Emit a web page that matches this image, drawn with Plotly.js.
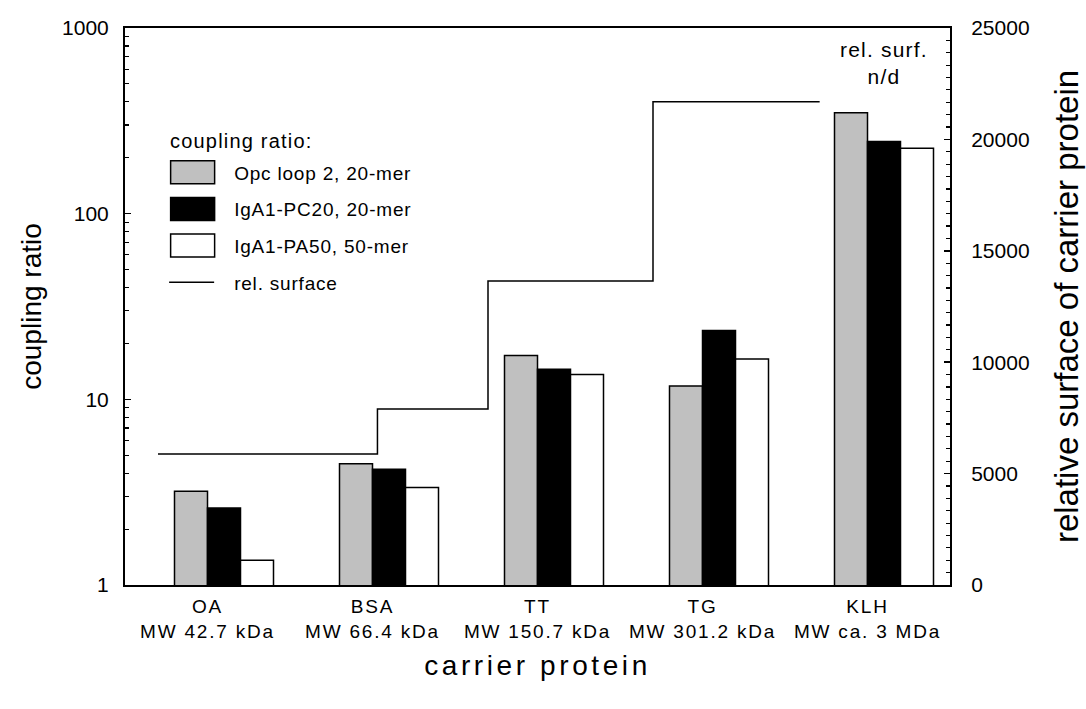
<!DOCTYPE html>
<html><head><meta charset="utf-8">
<script src="https://cdn.plot.ly/plotly-3.0.1.min.js"></script>
<style>
html,body{margin:0;padding:0;background:#fff;}
#chart{width:1086px;height:709px;}
.xtick text{letter-spacing:1.8px;}
.g-xtitle text{letter-spacing:3.6px;}
.legendtext{letter-spacing:0.8px;}
.annotation-text{letter-spacing:1.2px;}
</style></head><body><div id="chart"></div>
<script>
// ---- data ----
const categories = ['OA', 'BSA', 'TT', 'TG', 'KLH'];
const molWeights = ['MW 42.7 kDa', 'MW 66.4 kDa', 'MW 150.7 kDa', 'MW 301.2 kDa', 'MW ca. 3 MDa'];
const opcLoop2 = [3.2, 4.5, 17.2, 11.8, 350];      // coupling ratio, Opc loop 2, 20-mer
const iga1PC20 = [2.6, 4.2, 14.5, 23.5, 245];      // coupling ratio, IgA1-PC20, 20-mer
const iga1PA50 = [1.36, 3.35, 13.6, 16.5, 225];    // coupling ratio, IgA1-PA50, 50-mer
const relSurface = [5880, 7900, 13640, 21690];     // relative surface (OA..TG), KLH n/d
const surfStepEdges = [-0.3, 1.03, 1.7, 2.7, 3.71]; // where the step line changes (category units)
const leftTicks = [1, 10, 100, 1000];
const rightTicks = [0, 5000, 10000, 15000, 20000, 25000];

const FONT = 'Liberation Sans, Arial, sans-serif';
const barLine = {color: '#000', width: 1.5};

const traces = [
  {type: 'bar', name: 'Opc loop 2, 20-mer', x: categories, y: opcLoop2,
   width: 0.2, offset: -0.2, marker: {color: '#c0c0c0', line: barLine}, legendgroup: 'a'},
  {type: 'bar', name: 'IgA1-PC20, 20-mer', x: categories, y: iga1PC20,
   width: 0.2, offset: 0.0, marker: {color: '#000000', line: barLine}, legendgroup: 'b'},
  {type: 'bar', name: 'IgA1-PA50, 50-mer', x: categories, y: iga1PA50,
   width: 0.2, offset: 0.2, marker: {color: '#ffffff', line: barLine}, legendgroup: 'c'},
  {type: 'scatter', mode: 'lines', name: 'rel. surface',
   x: surfStepEdges, y: relSurface.concat([relSurface[relSurface.length - 1]]),
   line: {shape: 'hv', color: '#000', width: 1.5},
   xaxis: 'x2', yaxis: 'y2', legendgroup: 'd'}
];

const minorLog = [];
[1, 10, 100].forEach(d => { for (let k = 2; k <= 9; k++) minorLog.push(k * d); });
const minorLin = [];
for (let k = 0; k <= 45; k++) minorLin.push(k * 25000 / 45);

const layout = {
  width: 1086, height: 709,
  margin: {l: 125, r: 136, t: 28, b: 124},
  paper_bgcolor: '#fff', plot_bgcolor: '#fff',
  font: {family: FONT, color: '#000'},
  barmode: 'overlay',
  showlegend: true,
  legend: {
    x: 0.045, y: 0.775, xanchor: 'left', yanchor: 'top',
    bgcolor: 'rgba(0,0,0,0)', borderwidth: 0,
    font: {size: 19, family: FONT},
    itemwidth: 62, tracegroupgap: 9, traceorder: 'grouped'
  },
  xaxis: {
    type: 'category', categoryorder: 'array', categoryarray: categories,
    range: [-0.5, 4.5],
    tickvals: categories, ticktext: categories.map((c, i) => c + '<br>' + molWeights[i]),
    ticks: '', tickfont: {size: 19, family: FONT}, ticklabelstandoff: 3,
    showline: true, linewidth: 2, linecolor: '#000', mirror: true,
    showgrid: false, zeroline: false, fixedrange: true,
    title: {text: 'carrier protein', font: {size: 28, family: FONT}, standoff: 15}
  },
  xaxis2: {overlaying: 'x', range: [-0.5, 4.5], visible: false, fixedrange: true},
  yaxis: {
    type: 'log', range: [0, 3],
    tickmode: 'array', tickvals: leftTicks, ticktext: leftTicks.map(String),
    ticks: 'inside', ticklen: 6, tickwidth: 1.5, tickcolor: '#000',
    minor: {tickmode: 'array', tickvals: minorLog, ticks: 'inside', ticklen: 3.5, tickwidth: 1.2, tickcolor: '#000', showgrid: false},
    tickfont: {size: 21, family: FONT}, ticklabelstandoff: 10,
    showline: true, linewidth: 2, linecolor: '#000',
    showgrid: false, zeroline: false, fixedrange: true,
    title: {text: 'coupling ratio', font: {size: 28, family: FONT}, standoff: 12}
  },
  yaxis2: {
    overlaying: 'y', side: 'right', range: [0, 25000],
    tickmode: 'array', tickvals: rightTicks, ticktext: rightTicks.map(String),
    ticks: 'inside', ticklen: 6, tickwidth: 1.5, tickcolor: '#000',
    minor: {tickmode: 'array', tickvals: minorLin, ticks: 'inside', ticklen: 4, tickwidth: 1.2, tickcolor: '#000', showgrid: false},
    tickfont: {size: 21, family: FONT}, ticklabelstandoff: 15,
    showline: true, linewidth: 2, linecolor: '#000',
    showgrid: false, zeroline: false, fixedrange: true,
    title: {text: 'relative surface of carrier protein', font: {size: 33, family: FONT}, standoff: 26}
  },
  annotations: [
    {xref: 'x2', yref: 'paper', x: 4.1, y: 0.985, xanchor: 'center', yanchor: 'top',
     text: 'rel. surf.<br>n/d', showarrow: false, font: {size: 21, family: FONT}, align: 'center'},
    {xref: 'paper', yref: 'paper', x: 0.052, y: 0.797, xanchor: 'left', yanchor: 'middle',
     text: 'coupling ratio:', showarrow: false, font: {size: 20, family: FONT}}
  ]
};

function styleLegendSymbols() {
  document.querySelectorAll('.legend .legendpoints path').forEach(p => {
    const d = p.getAttribute('d') || '';
    if (/^M6,6H-6V-6H6Z$/.test(d)) p.setAttribute('d', 'M16.5,11.5H-27.5V-11.5H16.5Z');
  });
  document.querySelectorAll('.legend .legendlines path').forEach(p => {
    const d = p.getAttribute('d') || '';
    if (/^M5,0h/.test(d)) p.setAttribute('d', 'M7,0h45');
  });
}

Plotly.newPlot('chart', traces, layout, {staticPlot: true, displayModeBar: false}).then(gd => {
  styleLegendSymbols();
  gd.on('plotly_afterplot', styleLegendSymbols);
});
</script>
</body></html>
